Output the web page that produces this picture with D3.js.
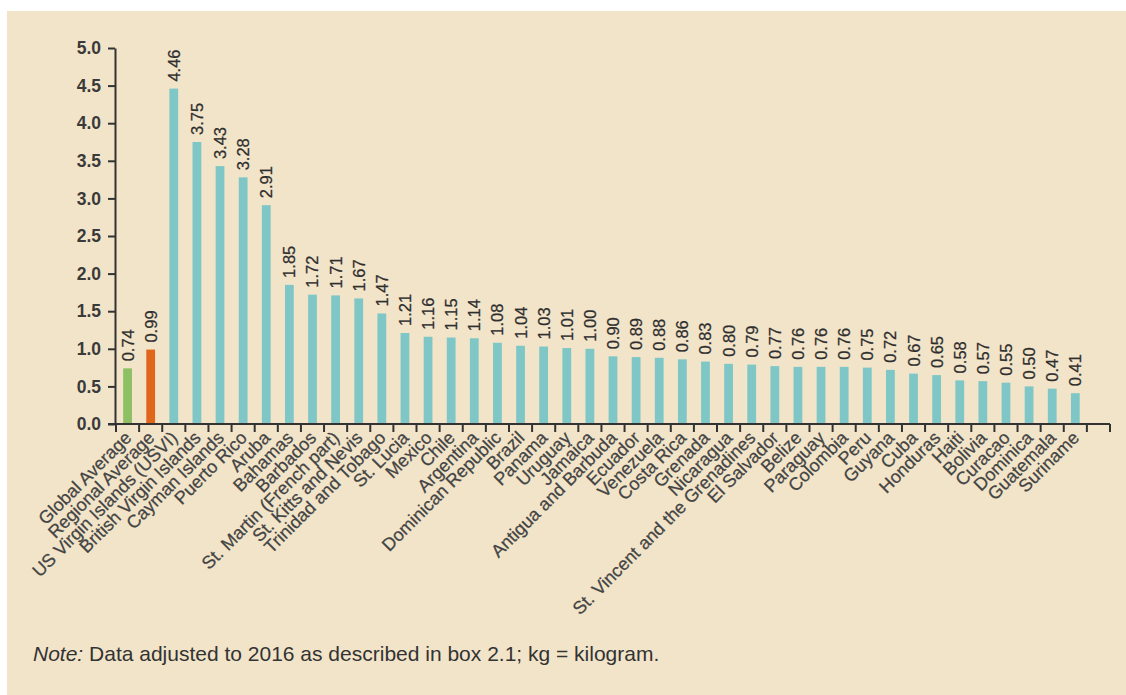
<!DOCTYPE html>
<html>
<head>
<meta charset="utf-8">
<script src="https://cdn.jsdelivr.net/npm/d3@7"></script>
<style>
  html, body { margin: 0; padding: 0; background: #ffffff; }
  svg { display: block; font-family: "Liberation Sans", Arial, sans-serif; }
</style>
</head>
<body>
<svg id="chart" width="1126" height="695"></svg>
<script>
const categories = [
  "Global Average", "Regional Average", "US Virgin Islands (USVI)", "British Virgin Islands",
  "Cayman Islands", "Puerto Rico", "Aruba", "Bahamas", "Barbados", "St. Martin (French part)",
  "St. Kitts and Nevis", "Trinidad and Tobago", "St. Lucia", "Mexico", "Chile", "Argentina",
  "Dominican Republic", "Brazil", "Panama", "Uruguay", "Jamaica", "Antigua and Barbuda",
  "Ecuador", "Venezuela", "Costa Rica", "Grenada", "Nicaragua", "St. Vincent and the Grenadines",
  "El Salvador", "Belize", "Paraguay", "Colombia", "Peru", "Guyana", "Cuba", "Honduras",
  "Haiti", "Bolivia", "Curacao", "Dominica", "Guatemala", "Suriname"
];
const values = [
  0.74, 0.99, 4.46, 3.75, 3.43, 3.28, 2.91, 1.85, 1.72, 1.71, 1.67, 1.47, 1.21, 1.16,
  1.15, 1.14, 1.08, 1.04, 1.03, 1.01, 1.00, 0.90, 0.89, 0.88, 0.86, 0.83, 0.80, 0.79,
  0.77, 0.76, 0.76, 0.76, 0.75, 0.72, 0.67, 0.65, 0.58, 0.57, 0.55, 0.50, 0.47, 0.41
];
const yTicks = [0, 0.5, 1.0, 1.5, 2.0, 2.5, 3.0, 3.5, 4.0, 4.5, 5.0];
const noteItalic = "Note:";
const noteText = " Data adjusted to 2016 as described in box 2.1; kg = kilogram.";

const data = categories.map((c, i) => ({ name: c, value: values[i] }));

const svg = d3.select("#chart");
const W = 1126, H = 695;

// panel background
svg.append("rect").attr("x", 7).attr("y", 11).attr("width", W - 7).attr("height", H - 11)
  .attr("fill", "#f2e4c9");

const axisX0 = 116, axisX1 = 1110;
const yTop = 48, yBase = 424;
const slots = categories.length + 1;
const step = (axisX1 - axisX0) / slots;

const x = d3.scaleBand().domain(categories)
  .range([axisX0, axisX0 + categories.length * step])
  .paddingInner(0.62).paddingOuter(0.31);
const y = d3.scaleLinear().domain([0, 5]).range([yBase, yTop]);

const colorFor = name => name === "Global Average" ? "#8cc063"
  : name === "Regional Average" ? "#e0661c" : "#7fc7c7";

// bars
svg.append("g").selectAll("rect").data(data).join("rect")
  .attr("x", d => x(d.name))
  .attr("width", x.bandwidth())
  .attr("y", d => y(d.value))
  .attr("height", d => y(0) - y(d.value))
  .attr("fill", d => colorFor(d.name));

// value labels
svg.append("g").selectAll("text").data(data).join("text")
  .attr("transform", d => `translate(${x(d.name) + x.bandwidth() / 2 + 6},${y(d.value) - 7}) rotate(-90)`)
  .attr("font-size", 16.5)
  .attr("fill", "#2e2e2e")
  .attr("stroke", "#2e2e2e").attr("stroke-width", 0.25)
  .text(d => d.value.toFixed(2));

// y axis
const yAxis = d3.axisLeft(y).tickValues(yTicks).tickFormat(d3.format(".1f"))
  .tickSize(7).tickSizeOuter(0).tickPadding(7);
const gy = svg.append("g").attr("transform", `translate(${axisX0 - 1},0)`).call(yAxis);
gy.select(".domain").attr("stroke", "#333").attr("stroke-width", 2);
gy.selectAll(".tick line").attr("stroke", "#333").attr("stroke-width", 2);
gy.selectAll(".tick text").attr("font-size", 17.5).attr("font-weight", "bold")
  .attr("fill", "#3a3a3a").attr("font-family", "'Liberation Sans', Arial, sans-serif");

// x axis line and ticks at slot boundaries
const bounds = d3.range(slots + 1).map(i => axisX0 + i * step);
svg.append("line").attr("x1", axisX0 - 8).attr("x2", axisX1)
  .attr("y1", yBase).attr("y2", yBase).attr("stroke", "#333").attr("stroke-width", 2);
svg.append("g").selectAll("line").data(bounds).join("line")
  .attr("x1", d => d).attr("x2", d => d)
  .attr("y1", yBase).attr("y2", yBase + 8)
  .attr("stroke", "#333").attr("stroke-width", 2);

// category labels
svg.append("g").selectAll("text").data(data).join("text")
  .attr("transform", d => `translate(${x(d.name) + x.bandwidth() / 2 + 5},${yBase + 15}) rotate(-45)`)
  .attr("text-anchor", "end")
  .attr("font-size", 18)
  .attr("fill", "#444")
  .attr("stroke", "#444").attr("stroke-width", 0.25)
  .text(d => d.name);

// note
const note = svg.append("text").attr("x", 33).attr("y", 661)
  .attr("font-size", 21).attr("fill", "#333");
note.append("tspan").attr("font-style", "italic").text(noteItalic);
note.append("tspan").text(noteText);
</script>
</body>
</html>
